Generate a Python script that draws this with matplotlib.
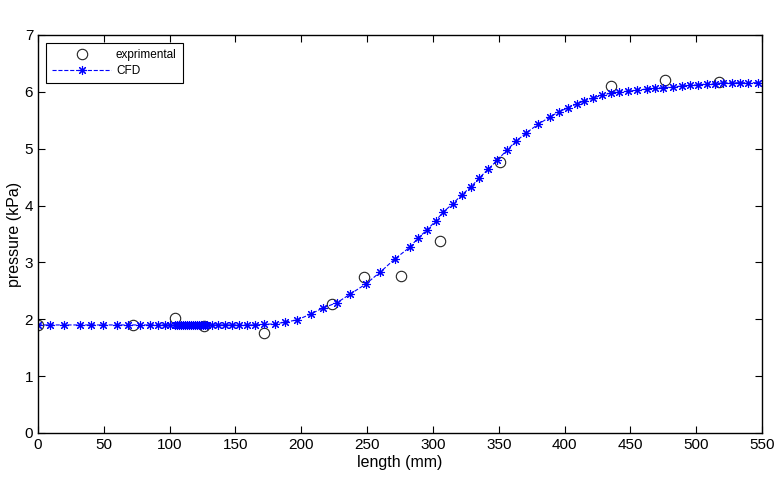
import matplotlib
matplotlib.use("Agg")
import matplotlib.pyplot as plt

plt.rcParams['font.family'] = ['Liberation Sans', 'DejaVu Sans']

# experimental points (length mm, pressure kPa)
EXP_X = [0, 72, 104, 126, 172, 223, 248, 276, 305, 351, 435, 476, 517]
EXP_Y = [1.90, 1.90, 2.02, 1.88, 1.76, 2.27, 2.74, 2.76, 3.37, 4.77, 6.10, 6.21, 6.18]

# CFD mesh points
CFD_X = [0, 9, 20, 32, 40, 49, 60, 68, 77.5, 85, 91, 96.5, 100.5, 104,
         105.5, 107, 108.5, 110, 111.5, 113, 114.5, 116, 117.5, 119, 120.5, 122, 123.5, 125, 126.5,
         128, 132, 137, 142, 147, 153, 159, 165, 172, 180, 188, 197, 207,
         216.5, 227, 237, 249, 260, 271, 282.6, 288.7, 295.5, 302, 308, 315, 322, 329, 335,
         342, 349, 356, 363, 371, 380, 389, 395.8, 402.6, 409.4, 414.8, 421.6, 428.4,
         435.3, 441.4, 448.2, 455, 462.6, 468.7, 474.8, 482.4, 489.2, 495.3, 501.4,
         508.2, 514.3, 520.4, 527.2, 533.3, 539.3, 547]
CFD_Y = [1.90, 1.90, 1.90, 1.90, 1.90, 1.90, 1.90, 1.90, 1.90, 1.90, 1.90, 1.90, 1.90, 1.90,
         1.90, 1.90, 1.90, 1.90, 1.90, 1.90, 1.90, 1.90, 1.90, 1.90, 1.90, 1.90, 1.90, 1.90, 1.90,
         1.90, 1.90, 1.90, 1.90, 1.90, 1.90, 1.90, 1.90, 1.91, 1.92, 1.95, 1.99, 2.09,
         2.20, 2.29, 2.44, 2.62, 2.83, 3.06, 3.27, 3.43, 3.57, 3.73, 3.89, 4.03, 4.19, 4.33, 4.48,
         4.64, 4.80, 4.97, 5.13, 5.28, 5.43, 5.56, 5.65, 5.72, 5.79, 5.84, 5.89, 5.94,
         5.98, 6.00, 6.01, 6.03, 6.05, 6.07, 6.07, 6.09, 6.10, 6.12, 6.12,
         6.14, 6.14, 6.16, 6.16, 6.16, 6.16, 6.16]

X_TICKS = list(range(0, 551, 50))
Y_TICKS = list(range(0, 8))

fig = plt.figure(figsize=(7.79, 4.82), dpi=100)
ax = fig.add_axes([0.0488, 0.1017, 0.9294, 0.8257])

ax.plot(EXP_X, EXP_Y, linestyle='none', marker='o', markersize=7.5,
        markerfacecolor='none', markeredgecolor='#222222', markeredgewidth=0.8,
        label='exprimental')
ax.plot(CFD_X, CFD_Y, linestyle='--', color='blue', linewidth=0.8,
        marker=(8, 2, 0), markersize=6.5, markeredgewidth=0.8, label='CFD')

ax.set_xlim(0, 550)
ax.set_ylim(0, 7)
ax.set_xticks(X_TICKS)
ax.set_yticks(Y_TICKS)
ax.tick_params(direction='in', top=True, right=True, labelsize=11, length=5)
for s in ax.spines.values():
    s.set_linewidth(1.0)
ax.set_xlabel('length (mm)', fontsize=11.5, labelpad=2)
ax.set_ylabel('pressure (kPa)', fontsize=11.5, labelpad=2)

leg = ax.legend(loc='upper left', fontsize=8.5, fancybox=False, edgecolor='black',
                framealpha=1, borderaxespad=0.7, handlelength=5.0,
                borderpad=0.5, handletextpad=0.4, labelspacing=0.3)
leg.get_frame().set_linewidth(0.8)

fig.savefig('out.png', dpi=100)
